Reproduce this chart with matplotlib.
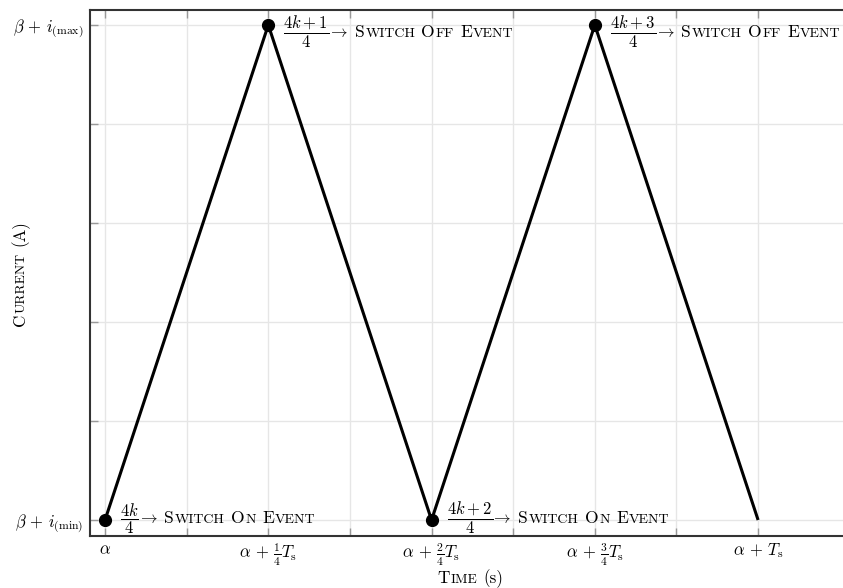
import matplotlib
matplotlib.use("Agg")
import matplotlib.pyplot as plt
import matplotlib.transforms as mtransforms
from matplotlib.font_manager import FontProperties

plt.rcParams["mathtext.fontset"] = "cm"
plt.rcParams["font.family"] = ["cmr10", "DejaVu Serif"]
plt.rcParams["axes.unicode_minus"] = False
plt.rcParams["axes.formatter.use_mathtext"] = True

# Normalised switching waveform over one period
time_frac = [0.0, 0.25, 0.5, 0.75, 1.0]
current_level = [0.0, 1.0, 0.0, 1.0, 0.0]

# Switching events marked on the waveform
event_time = [0.0, 0.25, 0.5, 0.75]
event_level = [0.0, 1.0, 0.0, 1.0]
event_numer = ["4k", "4k+1", "4k+2", "4k+3"]
event_word = ["On", "Off", "On", "Off"]

x_major = [0.0, 0.25, 0.5, 0.75, 1.0]
x_minor = [0.125, 0.375, 0.625, 0.875]
x_labels = [r"$\alpha$",
            r"$\alpha\,+\,\frac{1}{4}T_{\rm s}$",
            r"$\alpha\,+\,\frac{2}{4}T_{\rm s}$",
            r"$\alpha\,+\,\frac{3}{4}T_{\rm s}$",
            r"$\alpha\,+\,T_{\rm s}$"]
y_major = [0.0, 0.2, 0.4, 0.6, 0.8, 1.0]
y_labels = [r"$\beta\,+\,i_{(\mathrm{min})}$", "", "", "", "",
            r"$\beta\,+\,i_{(\mathrm{max})}$"]

DPI = 100
fig = plt.figure(figsize=(8.43, 5.88), dpi=DPI)
ax = fig.add_axes([90 / 843, 52 / 588, 753 / 843, 526 / 588])

ax.plot(time_frac, current_level, color="black", lw=2.2, solid_capstyle="butt", zorder=3)
ax.plot(event_time, event_level, "o", color="black", ms=8.5, zorder=4)

ax.set_xlim(-0.023, 1.130)
ax.set_ylim(-0.0323, 1.0303)

ax.set_xticks(x_major)
ax.set_xticklabels(x_labels, fontsize=12)
ax.set_xticks(x_minor, minor=True)
ax.set_yticks(y_major)
ax.set_yticklabels(y_labels, fontsize=12)

# Light guide lines at every tick position
for xv in x_major + x_minor:
    ax.axvline(xv, color="#e6e6e6", lw=1.0, zorder=0)
for yv in y_major:
    ax.axhline(yv, color="#e6e6e6", lw=1.0, zorder=0)
ax.grid(False)

ax.tick_params(which="both", direction="in", length=6, width=1.0, color="#999999",
               top=True, right=False, pad=4)
ax.tick_params(axis="y", pad=5)

for side in ("left", "bottom", "top"):
    ax.spines[side].set_color("#333333")
    ax.spines[side].set_linewidth(1.5)
ax.spines["right"].set_visible(False)

fig.canvas.draw()
renderer = fig.canvas.get_renderer()


def piece_width(s, size, ismath=False):
    prop = FontProperties(family=["cmr10"], size=size)
    w, h, d = renderer.get_text_width_height_descent(s, prop, ismath=ismath)
    return w


def small_caps(words, size):
    """Split words into (text, size, ismath) runs in small-caps style; None marks a space."""
    runs = []
    for i, word in enumerate(words):
        if i:
            runs.append(None)
        if word.startswith("$") or word.startswith("("):
            runs.append((word, size, word.startswith("$")))
            continue
        runs.append((word[0].upper(), size, False))
        if len(word) > 1:
            runs.append((word[1:].upper(), size * 0.8, False))
    return runs


def draw_runs(runs, x, y, transform, size, dx=0, dy=0, ha="left", rotation=0):
    gap = 0.33 * size * DPI / 72
    widths = []
    for r in runs:
        if r is None:
            widths.append(gap)
        else:
            widths.append(piece_width(r[0], r[1], r[2]) + 0.8)
    total = sum(widths)
    start = -total / 2 if ha == "center" else 0.0
    pos = start
    for r, w in zip(runs, widths):
        if r is not None:
            if rotation == 90:
                off = mtransforms.Affine2D().translate(dx, dy + pos)
            else:
                off = mtransforms.Affine2D().translate(dx + pos, dy)
            fig.text(x, y, r[0], fontsize=r[1], transform=transform + off,
                     ha="left", va="baseline", rotation=rotation,
                     rotation_mode="anchor", color="black", family=["cmr10"])
        pos += w


# Event annotations next to each marker
for t, lvl, num, word in zip(event_time, event_level, event_numer, event_word):
    runs = [(r"$\dfrac{%s}{4}$" % num, 12, True),
            (r"$\!\rightarrow$", 12, True)]
    runs += [None] + small_caps(["Switch", word, "Event"], 12.6)
    dy = -12 if lvl > 0.5 else -3
    draw_runs(runs, t, lvl, ax.transData, 12, dx=15, dy=dy)

# Axis titles
pix = mtransforms.IdentityTransform()
draw_runs(small_caps(["Time", "(s)"], 12.3), 471, 588 - 583, pix, 12.3, ha="center")
draw_runs(small_caps(["Current", "(A)"], 12.3), 25, 588 - 273, pix, 12.3, ha="center", rotation=90)

fig.savefig("out.png", dpi=DPI)
